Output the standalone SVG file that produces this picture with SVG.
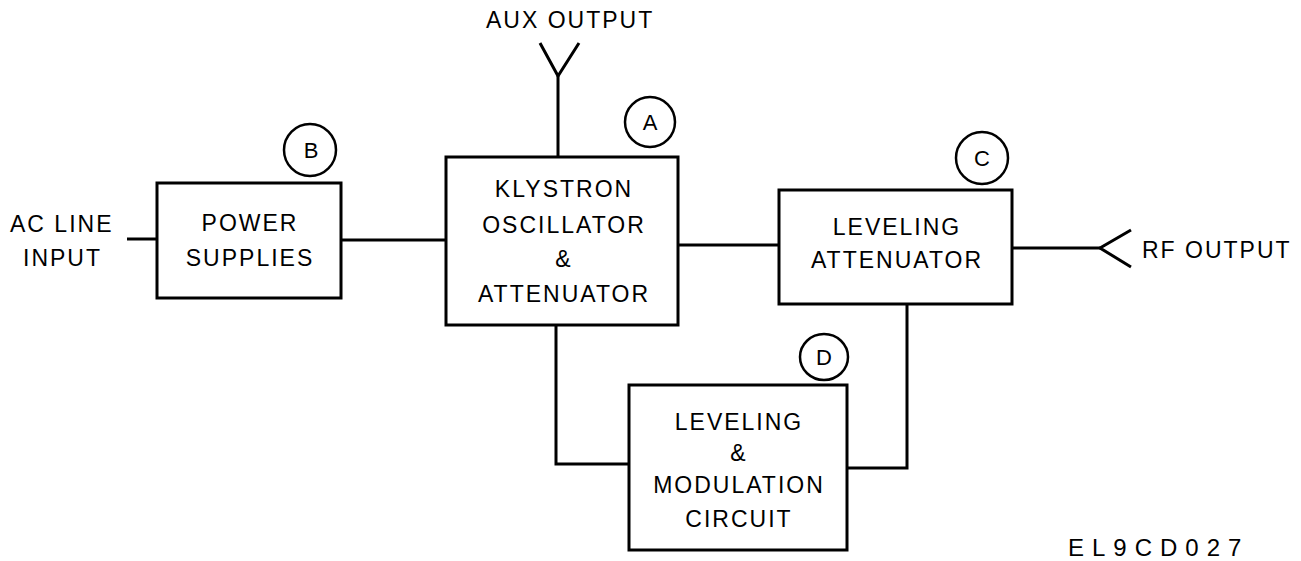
<svg xmlns="http://www.w3.org/2000/svg" width="1301" height="561" viewBox="0 0 1301 561">
<style>
.box{fill:none;stroke:#000;stroke-width:3}
.ln{fill:none;stroke:#000;stroke-width:3}
.c{fill:none;stroke:#000;stroke-width:2.5}
text{font-family:"Liberation Sans",Arial,sans-serif;font-size:23px;fill:#000;letter-spacing:2px}
.m{text-anchor:middle}
.l{letter-spacing:0;font-size:22px}
</style>
<rect width="1301" height="561" fill="#fff"/>
<g id="connectors">
<path class="ln" d="M127 239H157"/>
<path class="ln" d="M341 240H446"/>
<path class="ln" d="M678 245H779"/>
<path class="ln" d="M1012 248H1100"/>
<path class="ln" d="M1131 230L1100 248L1131 267"/>
<path class="ln" d="M558 157V76"/>
<path class="ln" d="M540 43L558 76L579 43"/>
<path class="ln" d="M556 325V464H629"/>
<path class="ln" d="M847 468H907V304"/>
</g>
<g id="ac-line"><text x="10" y="232">AC LINE</text><text x="23" y="266">INPUT</text></g>
<g id="aux-output"><text x="486" y="28">AUX OUTPUT</text></g>
<g id="rf-output"><text x="1142" y="258">RF OUTPUT</text></g>
<g id="B">
<rect class="box" x="157" y="183" width="184" height="115"/>
<text class="m" x="250" y="231">POWER</text>
<text class="m" x="250" y="266">SUPPLIES</text>
<ellipse class="c" cx="310" cy="150" rx="26" ry="26"/>
<text class="m l" x="311" y="158">B</text>
</g>
<g id="A">
<rect class="box" x="446" y="157" width="232" height="168"/>
<text class="m" x="564" y="197">KLYSTRON</text>
<text class="m" x="564" y="233">OSCILLATOR</text>
<text class="m" x="564" y="267">&amp;</text>
<text class="m" x="564" y="302">ATTENUATOR</text>
<ellipse class="c" cx="650" cy="122" rx="25" ry="25"/>
<text class="m l" x="650" y="130">A</text>
</g>
<g id="C">
<rect class="box" x="779" y="190" width="233" height="114"/>
<text class="m" x="897" y="235">LEVELING</text>
<text class="m" x="897" y="268">ATTENUATOR</text>
<ellipse class="c" cx="982" cy="158" rx="26" ry="26"/>
<text class="m l" x="982" y="166">C</text>
</g>
<g id="D">
<rect class="box" x="629" y="385" width="218" height="165"/>
<text class="m" x="739" y="430">LEVELING</text>
<text class="m" x="739" y="461">&amp;</text>
<text class="m" x="739" y="493">MODULATION</text>
<text class="m" x="739" y="527">CIRCUIT</text>
<ellipse class="c" cx="824" cy="357" rx="24" ry="23"/>
<text class="m l" x="824" y="365">D</text>
</g>
<text x="1068" y="556" style="font-size:24px;letter-spacing:8px">EL9CD027</text>
</svg>
